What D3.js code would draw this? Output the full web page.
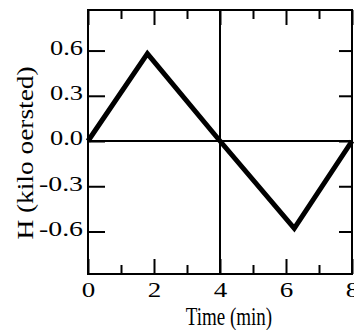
<!DOCTYPE html>
<html lang="en">
  <head>
    <title>H vs time</title>
    <meta charset="utf-8">
    <script src="https://d3js.org/d3.v7.min.js"></script>
    <style>
      body { margin: 0; background: white; }
      .axis path { display: none; }
      .axis line { stroke: black; stroke-width: 2; }
    </style>
  </head>
  <body>
    <script>

    // data
    var times = [0, 1.8, 4, 6.25, 8];
    var hValues = [0, 0.58, 0, -0.58, 0];
    var xMajor = [0, 2, 4, 6, 8];
    var xMinor = [1, 3, 5, 7];
    var yTicks = [-0.6, -0.3, 0, 0.3, 0.6];

    var serif = "'Liberation Serif', 'Times New Roman', serif";
    var W = 354, H = 330;
    var margin = {top: 10, right: 2, bottom: 56, left: 88};
    var w = W - margin.left - margin.right;   // 264
    var h = H - margin.top - margin.bottom;   // 264

    var svg = d3.select("body")
                .append("svg")
                .attr("width", W)
                .attr("height", H)
                .append("g")
                .attr("transform", "translate(" + margin.left + "," + margin.top + ")");

    var xS = d3.scaleLinear().domain([0, 8]).range([0, w]);
    var yS = d3.scaleLinear().domain([-0.882, 0.869]).range([h, 0]);

    // bottom axis, labels + inward major ticks
    var xAx = svg.append("g")
       .attr("class", "axis")
       .attr("transform", "translate(0," + h + ")")
       .call(d3.axisBottom(xS).tickValues(xMajor).tickSize(-15).tickPadding(7).tickFormat(d3.format("d")));
    xAx.selectAll("text")
       .style("font-family", serif).style("font-size", "22px").attr("fill", "black")
       .attr("textLength", 13.5).attr("lengthAdjust", "spacingAndGlyphs");
    svg.append("g")
       .attr("class", "axis")
       .attr("transform", "translate(0," + h + ")")
       .call(d3.axisBottom(xS).tickValues(xMinor).tickSize(-9).tickFormat(""));

    // top ticks
    svg.append("g")
       .attr("class", "axis")
       .call(d3.axisTop(xS).tickValues(xMajor).tickSize(-15).tickFormat(""));
    svg.append("g")
       .attr("class", "axis")
       .call(d3.axisTop(xS).tickValues(xMinor).tickSize(-9).tickFormat(""));

    // left axis
    var yAx = svg.append("g")
       .attr("class", "axis")
       .call(d3.axisLeft(yS).tickValues(yTicks).tickSize(-17).tickPadding(5)
               .tickFormat(function(d) { return d.toFixed(1); }));
    yAx.selectAll("text")
       .style("font-family", serif).style("font-size", "22px").attr("fill", "black")
       .attr("dy", "0.18em")
       .attr("textLength", function(d) { return d < 0 ? 44 : 33; })
       .attr("lengthAdjust", "spacingAndGlyphs");
    // right ticks
    svg.append("g")
       .attr("class", "axis")
       .attr("transform", "translate(" + w + ",0)")
       .call(d3.axisRight(yS).tickValues(yTicks).tickSize(-13).tickFormat(""));

    // zero line and the line at t = 4
    svg.append("line")
       .attr("x1", 0).attr("x2", w)
       .attr("y1", yS(0)).attr("y2", yS(0))
       .attr("stroke", "black").attr("stroke-width", 2);
    svg.append("line")
       .attr("x1", xS(4)).attr("x2", xS(4))
       .attr("y1", 0).attr("y2", h)
       .attr("stroke", "black").attr("stroke-width", 2);

    // frame
    svg.append("rect")
       .attr("width", w).attr("height", h)
       .attr("fill", "none").attr("stroke", "black").attr("stroke-width", 2);

    var pts = times.map(function(t, i) { return [t, hValues[i]]; });
    var line = d3.line().x(function(d) { return xS(d[0]); }).y(function(d) { return yS(d[1]); });
    svg.append("path")
       .datum(pts)
       .attr("d", line)
       .attr("fill", "none")
       .attr("stroke", "black")
       .attr("stroke-width", 5)
       .attr("stroke-linejoin", "miter");

    // axis titles (the source lettering is a bit stretched)
    svg.append("text")
       .attr("text-anchor", "middle")
       .style("font-family", serif)
       .style("font-size", "19px")
       .attr("transform", "translate(141," + (h + 51) + ") scale(1,1.32)")
       .text("Time (min)");

    svg.append("text")
       .attr("text-anchor", "middle")
       .style("font-family", serif)
       .style("font-size", "23px")
       .attr("transform", "translate(-55," + (yS(0) + 12) + ") rotate(-90) scale(1.19,1)")
       .text("H (kilo oersted)");

    </script>
  </body>
</html>
